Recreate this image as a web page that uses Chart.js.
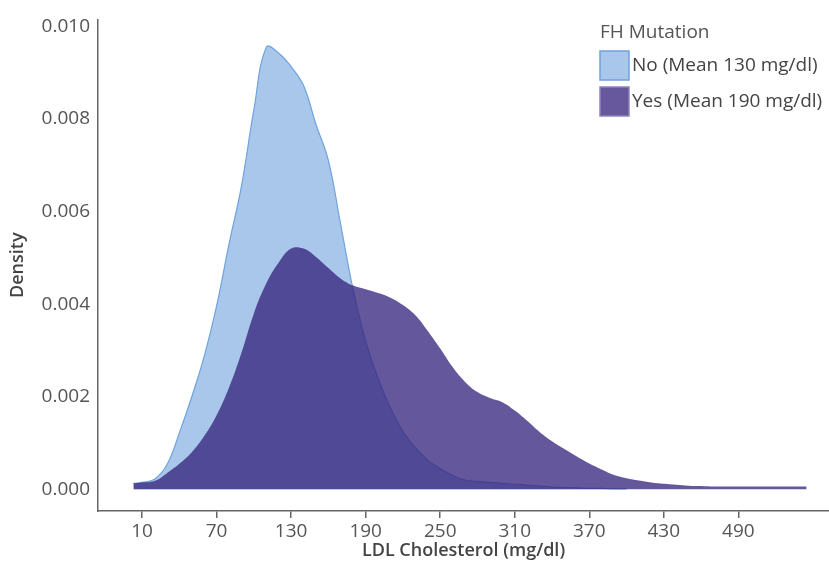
<!DOCTYPE html>
<html>
<head>
<meta charset="utf-8">
<script src="https://cdn.jsdelivr.net/npm/chart.js@4.4.0/dist/chart.umd.min.js"></script>
<style>
  body { margin: 0; padding: 0; background: white; }
  #wrap { width: 829px; height: 573px; position: relative; }
</style>
</head>
<body>
<div id="wrap"><canvas id="chart"></canvas></div>
<script>
// LDL grid (mg/dl) and density estimates
const ldlNo = [3, 10, 20, 30, 40, 50, 60, 70, 80, 90, 100, 110, 120, 130, 140, 150, 160, 170, 180, 190,
  200, 210, 220, 230, 240, 250, 260, 270, 280, 290, 300, 310, 320, 330, 340, 350, 360, 370, 380, 390, 400];
const densityNo = [0.00013, 0.00015, 0.00022, 0.00053, 0.00122, 0.0020, 0.00287, 0.00396, 0.0053, 0.00655,
  0.0082, 0.00955, 0.00942, 0.00913, 0.00872, 0.00788, 0.0071, 0.0057, 0.0043, 0.0032,
  0.0024, 0.00175, 0.00125, 0.0009, 0.00063, 0.00045, 0.0003, 0.0002, 0.00017, 0.00015,
  0.00013, 0.00011, 0.00009, 0.00007, 0.00005, 0.00004, 0.00003, 0.00002, 0.00002, 0.00001, 0.00001];

const ldlYes = [3, 10, 20, 30, 40, 50, 60, 70, 80, 90, 100, 110, 120, 130, 140, 150, 160, 170, 180, 190,
  200, 210, 220, 230, 240, 250, 260, 270, 280, 290, 300, 310, 320, 330, 340, 350, 360, 370, 380, 390,
  400, 410, 420, 430, 440, 450, 460, 470, 480, 490, 500, 510, 520, 530, 540, 545];
const densityYes = [0.00013, 0.00015, 0.00018, 0.00035, 0.00055, 0.0008, 0.00115, 0.0016, 0.0022, 0.00295,
  0.0038, 0.00445, 0.0049, 0.0052, 0.0052, 0.00502, 0.00478, 0.00455, 0.0044, 0.00432,
  0.00424, 0.00414, 0.00398, 0.00376, 0.00342, 0.00304, 0.00264, 0.00232, 0.0021, 0.00197,
  0.00188, 0.0017, 0.00148, 0.00124, 0.00104, 0.00087, 0.00071, 0.00056, 0.00043, 0.00031,
  0.00024, 0.00019, 0.00015, 0.00012, 0.0001, 0.00008, 0.00007, 0.00006, 0.00006, 0.00006,
  0.00006, 0.00006, 0.00006, 0.00006, 0.00006, 0.00006];

const xTicks = [10, 70, 130, 190, 250, 310, 370, 430, 490];
const yTicks = [0, 0.002, 0.004, 0.006, 0.008, 0.010];

const legendTitle = 'FH Mutation';
const seriesLabels = ['No (Mean 130 mg/dl)', 'Yes (Mean 190 mg/dl)'];

const FONT = '"Open Sans", "Noto Sans", sans-serif';
const noFill = '#a8c7eb';
const noLine = '#6fa3dc';
const yesFill = 'rgba(52, 34, 124, 0.76)';

const toPoints = (xs, ys) => xs.map((x, i) => ({ x, y: ys[i] }));

// simple legend drawn in the top-right corner
const legendPlugin = {
  id: 'fhLegend',
  afterDraw(chart) {
    const ctx = chart.ctx;
    ctx.save();
    ctx.font = '19px ' + FONT;
    ctx.textBaseline = 'middle';
    ctx.textAlign = 'left';
    ctx.fillStyle = '#555';
    ctx.fillText(legendTitle, 600, 33);
    const boxes = [
      { y: 51, fill: noFill, stroke: noLine },
      { y: 87, fill: '#67589d', stroke: '#8f84bd' }
    ];
    boxes.forEach((b, i) => {
      ctx.fillStyle = b.fill;
      ctx.fillRect(600, b.y, 29, 29);
      ctx.strokeStyle = b.stroke;
      ctx.lineWidth = 1.5;
      ctx.strokeRect(600, b.y, 29, 29);
      ctx.fillStyle = '#444';
      ctx.fillText(seriesLabels[i], 632, b.y + 15);
    });
    ctx.restore();
  }
};

new Chart(document.getElementById('chart'), {
  type: 'line',
  data: {
    datasets: [
      {
        label: seriesLabels[0],
        data: toPoints(ldlNo, densityNo),
        backgroundColor: noFill,
        borderColor: noLine,
        borderWidth: 1.2,
        fill: 'origin',
        pointRadius: 0,
        tension: 0.4,
        order: 1
      },
      {
        label: seriesLabels[1],
        data: toPoints(ldlYes, densityYes),
        backgroundColor: yesFill,
        borderColor: 'rgba(0,0,0,0)',
        borderWidth: 0,
        fill: 'origin',
        pointRadius: 0,
        tension: 0.4,
        order: 0
      }
    ]
  },
  options: {
    responsive: true,
    maintainAspectRatio: false,
    animation: false,
    layout: { padding: { top: 13, right: 0, bottom: 0, left: 0 } },
    plugins: {
      legend: { display: false },
      tooltip: { enabled: false }
    },
    scales: {
      x: {
        type: 'linear',
        min: -25.5,
        max: 563,
        afterBuildTicks: (scale) => { scale.ticks = xTicks.map(v => ({ value: v })); },
        afterFit: (scale) => { scale.height = 62; },
        grid: { display: true, drawOnChartArea: false, drawTicks: true, tickLength: 7, color: '#666', lineWidth: 1.5 },
        border: { display: true, color: '#666', width: 1.5 },
        ticks: { color: '#555', font: { family: FONT, size: 19 }, padding: 2, maxRotation: 0 },
        title: {
          display: true,
          text: 'LDL Cholesterol (mg/dl)',
          color: '#444',
          font: { family: FONT, size: 18, weight: '600' },
          padding: { top: 0, bottom: 11 }
        }
      },
      y: {
        type: 'linear',
        min: -0.000468,
        max: 0.01015,
        afterBuildTicks: (scale) => { scale.ticks = yTicks.map(v => ({ value: v })); },
        afterFit: (scale) => { scale.width = 98; },
        grid: { display: false, drawTicks: false },
        border: { display: true, color: '#666', width: 1.5 },
        ticks: {
          color: '#555',
          font: { family: FONT, size: 19 },
          padding: 8,
          callback: (v) => v.toFixed(3)
        },
        title: {
          display: true,
          text: 'Density',
          color: '#444',
          font: { family: FONT, size: 18, weight: '600' },
          padding: { top: 7, bottom: 0 }
        }
      }
    }
  },
  plugins: [legendPlugin]
});
</script>
</body>
</html>
